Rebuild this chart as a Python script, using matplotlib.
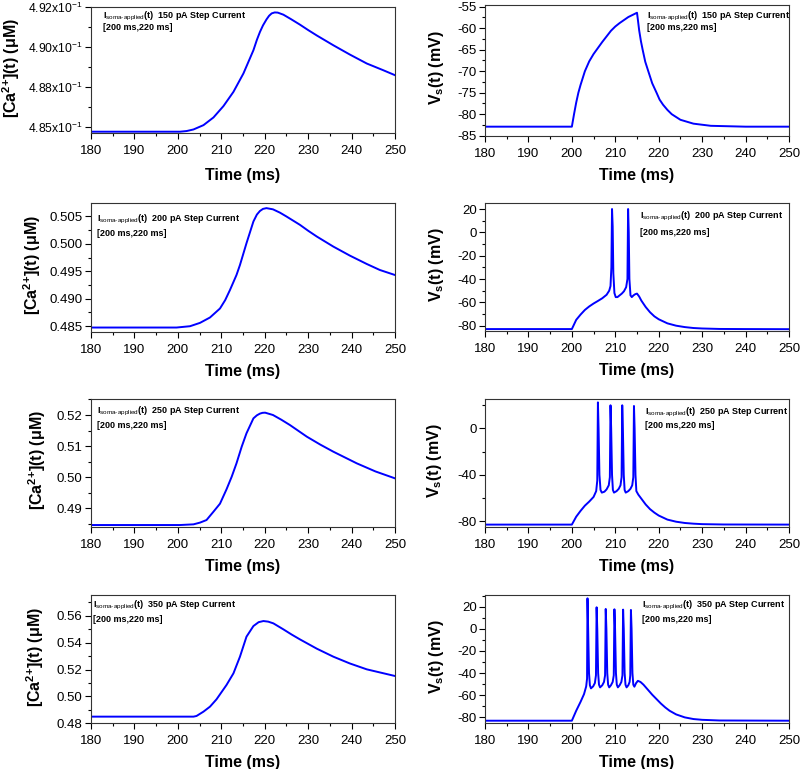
import matplotlib
matplotlib.use("Agg")
from matplotlib import pyplot as plt
from matplotlib.ticker import MultipleLocator, FixedLocator

# somatic [Ca2+](t) in uM
ca150_t = [180, 200.5, 202.0, 203.6, 205.9, 208.2, 210.5, 212.8, 215.1, 217.4, 218.2, 218.9, 219.6,
           220.4, 221.0, 221.6, 222.3, 223.0, 224.3, 226.0, 228.1, 230.0, 232.0, 235.8, 239.6, 243.5,
           247.3, 250]
ca150_v = [0.48471, 0.48471, 0.48475, 0.48485, 0.48512, 0.48560, 0.48631, 0.48720, 0.48835, 0.48980,
           0.49045, 0.49094, 0.49135, 0.49172, 0.49195, 0.49210, 0.49216, 0.49215, 0.49202, 0.49175,
           0.49140, 0.49106, 0.49072, 0.49011, 0.48953, 0.48897, 0.48855, 0.48824]

ca200_t = [180, 199.7, 202.8, 205.1, 207.4, 209.7, 210.9, 212.0, 213.5, 214.3, 215.8, 217.4, 218.2,
           218.9, 219.6, 220.4, 221.9, 223.5, 225.0, 228.1, 230.0, 232.0, 235.8, 239.6, 243.5, 246.5, 250]
ca200_v = [0.48476, 0.48476, 0.48500, 0.48561, 0.48659, 0.48823, 0.48976, 0.49160, 0.49433, 0.49616,
           0.50012, 0.50409, 0.50535, 0.50600, 0.50638, 0.50652, 0.50630, 0.50570, 0.50500, 0.50348,
           0.50240, 0.50134, 0.49951, 0.49787, 0.49634, 0.49525, 0.49433]

ca250_t = [180, 200.5, 203.6, 205.1, 206.6, 208.2, 209.7, 211.2, 212.4, 213.5, 214.7, 215.8, 217.4,
           218.2, 218.9, 219.5, 220.1, 221.9, 223.8, 225.8, 229.7, 232.8, 235.8, 241.2, 245.5, 250]
ca250_v = [0.48452, 0.48452, 0.48474, 0.48530, 0.48613, 0.48882, 0.49140, 0.49602, 0.50011, 0.50441,
           0.50978, 0.51409, 0.51892, 0.51990, 0.52045, 0.52070, 0.52075, 0.52000, 0.51850, 0.51677,
           0.51301, 0.51045, 0.50817, 0.50441, 0.50180, 0.49957]

ca350_t = [180, 203.6, 204.3, 205.9, 207.4, 208.9, 211.2, 212.8, 214.3, 215.8, 217.4, 218.6, 219.7,
           220.8, 222.0, 224.3, 226.2, 228.1, 232.0, 235.8, 239.6, 243.5, 250]
ca350_v = [0.48495, 0.48495, 0.48545, 0.48867, 0.49238, 0.49783, 0.50848, 0.51715, 0.52954, 0.54440,
           0.55232, 0.55520, 0.55604, 0.55560, 0.55430, 0.54985, 0.54600, 0.54242, 0.53548, 0.52954,
           0.52450, 0.52012, 0.51517]

# somatic membrane potential Vs(t) in mV
vs150_t = [180, 200, 200.5, 201, 201.5, 202, 203, 204, 205, 206, 207, 208, 209, 210, 211, 212, 213,
           214, 215, 215.2, 215.5, 215.9, 216.3, 216.9, 217.6, 218.5, 219.5, 220.2, 221, 222, 223,
           225, 228, 232, 240, 250]
vs150_v = [-82.9, -82.9, -80, -77.3, -75, -73.2, -70, -67.7, -66, -64.6, -63.2, -61.9, -60.6, -59.6,
           -58.8, -58.1, -57.4, -56.9, -56.4, -58, -60.5, -63, -65, -67.8, -70, -72.8, -75, -76.6,
           -77.8, -79, -80, -81.3, -82.2, -82.7, -82.9, -82.9]

vs200_t = [180, 200, 201, 202, 203, 204, 205, 206, 207, 208, 208.6, 208.9, 209.1, 209.25, 209.4,
           209.55, 209.8, 210.1, 210.5, 211, 211.5, 212, 212.5, 212.8, 212.95, 213.1, 213.25, 213.5,
           213.8, 214.2, 214.6, 215.0, 215.5, 216, 217, 218, 219, 220, 222, 224, 226, 228, 230, 234,
           240, 250]
vs200_v = [-82.9, -82.9, -75, -70.5, -66.5, -63.5, -61, -58.8, -56.5, -53.5, -50, -46, -30, 20, 5,
           -35, -52, -55.5, -55.5, -54, -52.5, -50.5, -47, -40, 20, 0, -40, -54, -55.5, -54, -53,
           -52.5, -55, -58.5, -64, -68.5, -72, -74.5, -78, -80, -81.2, -82, -82.4, -82.8, -82.9, -83]

vs250_t = [180, 200, 201, 202, 203, 204, 205, 205.6, 205.85, 206.0, 206.15, 206.35, 206.6, 206.9,
           207.5, 208, 208.5, 208.75, 208.9, 209.05, 209.25, 209.45, 209.7, 210.3, 210.8, 211.2,
           211.45, 211.6, 211.75, 211.95, 212.15, 212.4, 213, 213.5, 213.9, 214.15, 214.3, 214.45,
           214.65, 214.85, 215.3, 216, 217, 218, 219, 220, 222, 224, 226, 228, 230, 235, 250]
vs250_v = [-82.8, -82.8, -76, -71, -66.5, -63, -59, -54, -45, 22.3, 0, -40, -53, -55.3,
           -54.5, -52.5, -49, -42, 19.8, 0, -40, -53, -55.3, -54, -52, -49,
           -42, 19.8, 0, -40, -53, -55.3, -54, -52, -49, -42, 19.2, 0,
           -40, -54, -57, -60.5, -65.5, -69.5, -72.5, -75, -78.5, -80.3, -81.4, -82, -82.4, -82.7, -82.8]

vs350_t = [180, 200, 201, 202, 202.8, 203.3, 203.5, 203.6, 203.75, 203.95, 204.15, 204.4, 204.9,
           205.3, 205.55, 205.7, 205.85, 206.05, 206.25, 206.5, 207, 207.4, 207.65, 207.8, 207.95,
           208.15, 208.35, 208.6, 209.0, 209.4, 209.65, 209.8, 209.95, 210.15, 210.35, 210.6, 211.0,
           211.4, 211.65, 211.8, 211.95, 212.15, 212.35, 212.6, 213, 213.3, 213.45, 213.6, 213.75,
           213.95, 214.15, 214.4, 214.8, 215.2, 215.8, 216.5, 217.5, 218.5, 219.5, 220.5, 221.5,
           222.5, 224, 226, 228, 230, 234, 250]
vs350_v = [-83, -83, -74, -66, -59, -52, -45, 27.5, 0, -40, -51, -53.8, -52,
           -49, -42, 19.4, 0, -40, -50.5, -52.9, -51, -48, -42, 17.9, 0,
           -40, -50.5, -52.9, -51, -48, -42, 17.6, 0, -40, -50.5, -52.9, -51,
           -48, -42, 17.3, 0, -40, -50.5, -52.9, -51, -48, -42, 17.0, 0,
           -40, -50.5, -52.3, -49, -47, -48, -50.5, -55, -59.5, -63.5, -67.5, -71,
           -74, -77.3, -80, -81.5, -82.2, -82.8, -83]

currents = ["150", "200", "250", "350"]

plt.rcParams["font.family"] = ["Liberation Sans", "DejaVu Sans"]
plt.rcParams["mathtext.fontset"] = "custom"
plt.rcParams["mathtext.rm"] = "Liberation Sans"
plt.rcParams["mathtext.bf"] = "Liberation Sans:bold"
plt.rcParams["mathtext.it"] = "Liberation Sans:italic"
plt.rcParams["axes.unicode_minus"] = False

W, H = 800, 769
fig = plt.figure(figsize=(W / 100, H / 100), dpi=100)


def make_axes(left, top, bottom):
    return fig.add_axes([left / W, 1 - bottom / H, 304 / W, (bottom - top) / H])


def style(ax, ylabel, ylab_x, xpad=6, ysize=9.5):
    ax.set_xlim(180, 250)
    ax.xaxis.set_major_locator(MultipleLocator(10))
    ax.xaxis.set_minor_locator(MultipleLocator(5))
    ax.tick_params(which="major", direction="out", length=4, width=0.8, labelsize=9.5, pad=2)
    ax.tick_params(axis="x", which="major", pad=4.5)
    ax.tick_params(axis="y", which="major", labelsize=ysize)
    ax.tick_params(which="minor", direction="out", length=2, width=0.8)
    for s in ax.spines.values():
        s.set_color("#333333")
        s.set_linewidth(0.8)
    ax.set_xlabel("Time (ms)", fontsize=11.5, fontweight="bold", labelpad=xpad)
    ax.set_ylabel(ylabel, fontsize=11.5, fontweight="bold")
    ax.yaxis.set_label_coords(ylab_x, 0.52)


def note(ax, x, d1, d2, cur, hpx):
    ax.text(x, 1 - d1 / hpx, r"I$_{\mathrm{soma\text{-}applied}}$(t)  " + cur + " pA Step Current",
            transform=ax.transAxes, fontsize=6.5, fontweight="bold", va="center")
    ax.text(x, 1 - d2 / hpx, "[200 ms,220 ms]",
            transform=ax.transAxes, fontsize=6.5, fontweight="bold", va="center")


ca_label = r"[Ca$^{\mathbf{2{+}}}$](t) (μM)"
vs_label = r"V$_{\mathbf{s}}$(t) (mV)"
blue = "#0000ff"

# row 1
ax = make_axes(91, 7, 133.3)
ax.plot(ca150_t, ca150_v, color=blue, lw=1.4)
ax.set_ylim(0.48461, 0.4925)
ax.yaxis.set_major_locator(FixedLocator([0.485, 0.4875, 0.49, 0.4925]))
ax.set_yticklabels([r"4.85x10$^{-1}$", r"4.88x10$^{-1}$", r"4.90x10$^{-1}$", r"4.92x10$^{-1}$"])
ax.yaxis.set_minor_locator(MultipleLocator(0.00125))
style(ax, ca_label, -0.228, xpad=8, ysize=8.7)
note(ax, 0.04, 9, 20, currents[0], 126.3)

ax = make_axes(485, 5, 135.7)
ax.plot(vs150_t, vs150_v, color=blue, lw=1.4)
ax.set_ylim(-85, -54.6)
ax.yaxis.set_major_locator(MultipleLocator(5))
ax.yaxis.set_minor_locator(MultipleLocator(2.5))
style(ax, vs_label, -0.128)
note(ax, 0.533, 11, 22, currents[0], 130.7)

# row 2
ax = make_axes(91, 203.3, 331.7)
ax.plot(ca200_t, ca200_v, color=blue, lw=1.4)
ax.set_ylim(0.4840, 0.5074)
ax.yaxis.set_major_locator(FixedLocator([0.485, 0.49, 0.495, 0.5, 0.505]))
ax.set_yticklabels(["0.485", "0.490", "0.495", "0.500", "0.505"])
ax.yaxis.set_minor_locator(MultipleLocator(0.0025))
style(ax, ca_label, -0.158)
note(ax, 0.02, 16, 30, currents[1], 128.4)

ax = make_axes(485, 203.3, 330.7)
ax.plot(vs200_t, vs200_v, color=blue, lw=1.4)
ax.set_ylim(-84.3, 24.9)
ax.yaxis.set_major_locator(MultipleLocator(20))
ax.yaxis.set_minor_locator(MultipleLocator(10))
style(ax, vs_label, -0.128)
note(ax, 0.51, 13, 29, currents[1], 127.4)

# row 3
ax = make_axes(91, 399, 526.7)
ax.plot(ca250_t, ca250_v, color=blue, lw=1.4)
ax.set_ylim(0.48398, 0.52516)
ax.yaxis.set_major_locator(FixedLocator([0.49, 0.50, 0.51, 0.52]))
ax.set_yticklabels(["0.49", "0.50", "0.51", "0.52"])
ax.yaxis.set_minor_locator(MultipleLocator(0.005))
style(ax, ca_label, -0.141)
note(ax, 0.02, 12, 26, currents[2], 127.7)

ax = make_axes(485, 399, 526.7)
ax.plot(vs250_t, vs250_v, color=blue, lw=1.4)
ax.set_ylim(-84.6, 25.2)
ax.yaxis.set_major_locator(MultipleLocator(40))
ax.yaxis.set_minor_locator(MultipleLocator(20))
style(ax, vs_label, -0.135)
note(ax, 0.526, 13, 26, currents[2], 127.7)

# row 4
ax = make_axes(91, 595, 723.3)
ax.plot(ca350_t, ca350_v, color=blue, lw=1.4)
ax.set_ylim(0.48, 0.5754)
ax.yaxis.set_major_locator(FixedLocator([0.48, 0.50, 0.52, 0.54, 0.56]))
ax.set_yticklabels(["0.48", "0.50", "0.52", "0.54", "0.56"])
ax.yaxis.set_minor_locator(MultipleLocator(0.01))
style(ax, ca_label, -0.148)
note(ax, 0.008, 10, 25, currents[3], 128.3)

ax = make_axes(485, 595, 722.7)
ax.plot(vs350_t, vs350_v, color=blue, lw=1.4)
ax.set_ylim(-84.8, 30.5)
ax.yaxis.set_major_locator(MultipleLocator(20))
ax.yaxis.set_minor_locator(MultipleLocator(10))
style(ax, vs_label, -0.128)
note(ax, 0.516, 10, 25, currents[3], 127.7)

fig.savefig("out.png", dpi=100)
